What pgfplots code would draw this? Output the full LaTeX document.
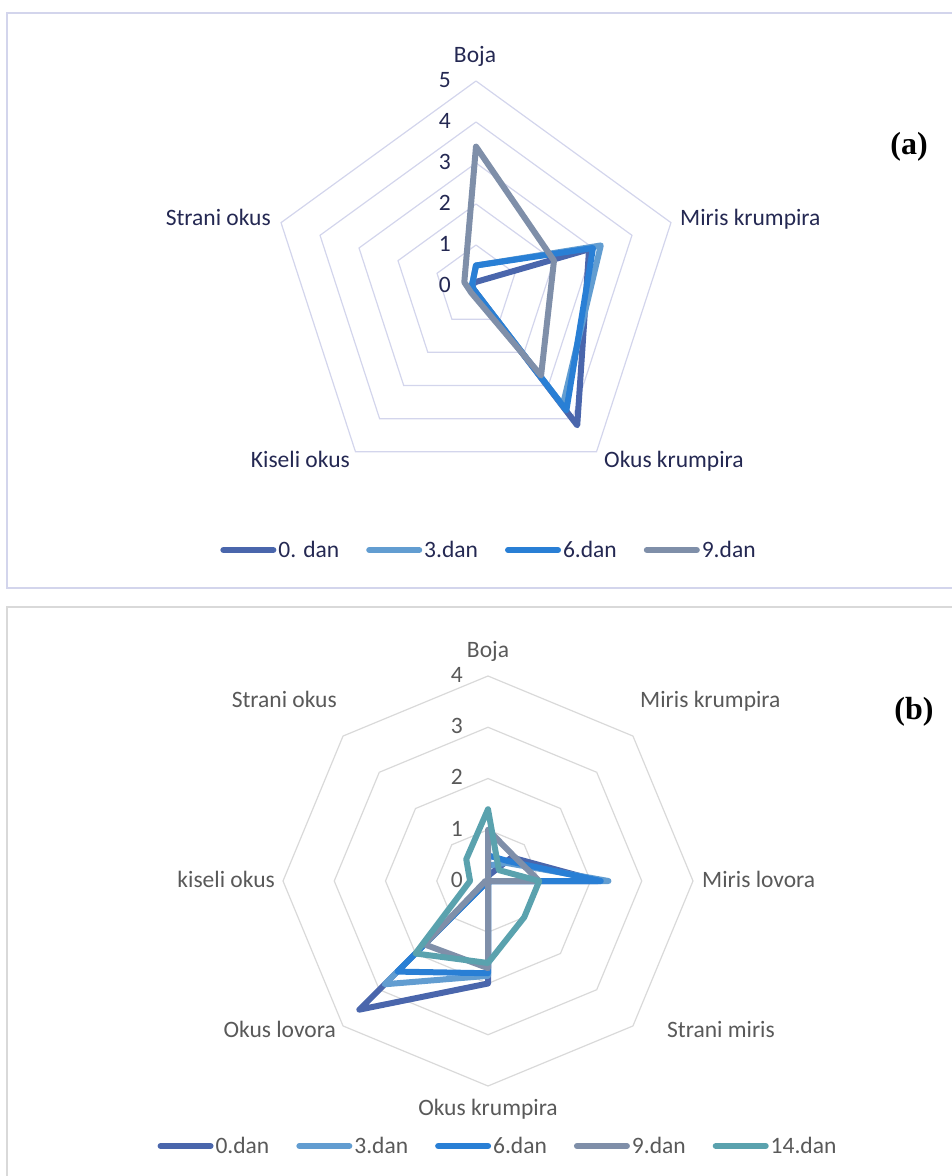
\documentclass[border=0pt]{standalone}
\usepackage{fontspec}
\setmainfont{Carlito}
\newfontfamily\serifbf{Liberation Serif}
\usepackage{pgfplots}
\pgfplotsset{compat=1.18}
\usepgfplotslibrary{polar}

\definecolor{c0}{HTML}{4A66AC}
\definecolor{c3}{HTML}{629DD1}
\definecolor{c6}{HTML}{297FD5}
\definecolor{c9}{HTML}{7F8FA9}
\definecolor{c14}{HTML}{5AA2AE}
\definecolor{txa}{HTML}{242852}
\definecolor{txb}{HTML}{595959}
\definecolor{grida}{HTML}{D3D5EC}
\definecolor{gridb}{HTML}{D9D9D9}

\newcommand\lab{\fontsize{23.5}{27}\selectfont}

\pgfplotsset{
  ser/.style={line width=6pt, line join=round, line cap=round},
  radar/.style={
    scale only axis, hide axis, clip=false, ymin=0,
    legend image code/.code={\draw[##1] (0pt,0pt) -- (50pt,0pt);},
    legend style={at={(axis cs:0,0)}, anchor=center, draw=none, fill=none,
      font=\lab, nodes={inner xsep=2pt},
      /tikz/every even column/.append style={column sep=25pt}},
  }
}

\begin{document}
\begin{tikzpicture}[x=1pt,y=1pt]
\useasboundingbox (0,0) rectangle (952,1176);
\draw[grida, line width=1.3pt] (7,1163) rectangle (965,588);
\draw[gridb, line width=1.3pt] (7,569) rectangle (965,-10);

% ---------------- (a) five attributes ----------------
\begin{polaraxis}[radar,
  at={(476pt,890pt)}, anchor=origin,
  width=410pt, height=410pt, ymax=5,
  legend columns=4,
  legend style={xshift=13pt, yshift=-264pt, text=txa},
]
\pgfplotsinvokeforeach{1,2,3,4,5}{
  \addplot[grida, line width=1.2pt, forget plot]
    coordinates {(90,#1) (18,#1) (-54,#1) (-126,#1) (162,#1) (90,#1)};
}
% Boja, Miris krumpira, Okus krumpira, Kiseli okus, Strani okus
\addplot[c0, ser] coordinates {(90,0.1) (18,2.9) (-54,4.2) (-126,0.1) (162,0.1) (90,0.1)};
\addlegendentry{0. dan}
\addplot[c3, ser] coordinates {(90,0.5) (18,3.2) (-54,3.6) (-126,0.1) (162,0.1) (90,0.5)};
\addlegendentry{3.dan}
\addplot[c6, ser] coordinates {(90,0.5) (18,3.0) (-54,3.75) (-126,0.1) (162,0.1) (90,0.5)};
\addlegendentry{6.dan}
\addplot[c9, ser] coordinates {(90,3.4) (18,2.0) (-54,2.7) (-126,0.2) (162,0.3) (90,3.4)};
\addlegendentry{9.dan}
\end{polaraxis}

% ---------------- (b) eight attributes ----------------
\begin{polaraxis}[radar,
  at={(488pt,295pt)}, anchor=origin,
  width=410pt, height=410pt, ymax=4,
  legend columns=5,
  legend style={xshift=10pt, yshift=-265pt, text=txb},
]
\pgfplotsinvokeforeach{1,2,3,4}{
  \addplot[gridb, line width=1.2pt, forget plot]
    coordinates {(90,#1) (45,#1) (0,#1) (-45,#1) (-90,#1) (-135,#1) (180,#1) (135,#1) (90,#1)};
}
% Boja, Miris krumpira, Miris lovora, Strani miris, Okus krumpira, Okus lovora, kiseli okus, Strani okus
\addplot[c0, ser] coordinates {(90,0.1) (45,0.65) (0,2.15) (-45,0) (-90,2.0) (-135,3.55) (180,0) (135,0) (90,0.1)};
\addlegendentry{0.dan}
\addplot[c3, ser] coordinates {(90,0.3) (45,0.5) (0,2.35) (-45,0) (-90,1.85) (-135,2.85) (180,0) (135,0) (90,0.3)};
\addlegendentry{3.dan}
\addplot[c6, ser] coordinates {(90,0.5) (45,0.55) (0,2.2) (-45,0) (-90,1.8) (-135,2.5) (180,0) (135,0) (90,0.5)};
\addlegendentry{6.dan}
\addplot[c9, ser] coordinates {(90,1.0) (45,0.7) (0,1.0) (-45,0) (-90,1.7) (-135,1.75) (180,0.05) (135,0) (90,1.0)};
\addlegendentry{9.dan}
\addplot[c14, ser] coordinates {(90,1.4) (45,0.3) (0,1.0) (-45,1.0) (-90,1.6) (-135,2.0) (180,0.35) (135,0.6) (90,1.4)};
\addlegendentry{14.dan}
\end{polaraxis}

% ---------------- labels (a) ----------------
\begin{scope}[every node/.style={font=\lab, text=txa, inner sep=0pt}]
\node[anchor=base] at (475,1113) {Boja};
\node[anchor=base west] at (680,950) {Miris krumpira};
\node[anchor=base west] at (604,708) {Okus krumpira};
\node[anchor=base east] at (350,708) {Kiseli okus};
\node[anchor=base east] at (271,950) {Strani okus};
\foreach \v/\y in {5/81,4/122,3/163,2/204,1/245,0/286}
  \node[anchor=base east] at (451,1176-\y-7) {\v};
\end{scope}
\node[font=\serifbf\bfseries\fontsize{32}{36}\selectfont, inner sep=0pt] at (909,1029) {(a)};

% ---------------- labels (b) ----------------
\begin{scope}[every node/.style={font=\lab, text=txb, inner sep=0pt}]
\node[anchor=base] at (488,518) {Boja};
\node[anchor=base west] at (640,468) {Miris krumpira};
\node[anchor=base west] at (702,288) {Miris lovora};
\node[anchor=base west] at (667,138) {Strani miris};
\node[anchor=base] at (488,60) {Okus krumpira};
\node[anchor=base east] at (336,138) {Okus lovora};
\node[anchor=base east] at (275,288) {kiseli okus};
\node[anchor=base east] at (337,468) {Strani okus};
\foreach \v/\y in {4/676,3/727,2/778,1/830,0/881}
  \node[anchor=base east] at (463,1176-\y-7) {\v};
\end{scope}
\node[font=\serifbf\bfseries\fontsize{32}{36}\selectfont, inner sep=0pt] at (914,464) {(b)};
\end{tikzpicture}
\end{document}
